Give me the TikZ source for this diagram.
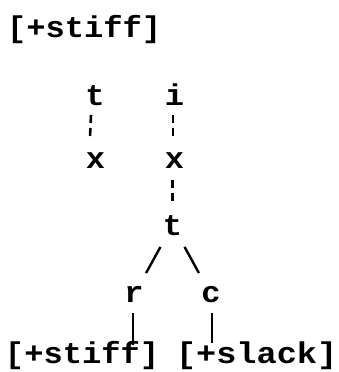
\documentclass[tikz,border=0pt]{standalone}
\usepackage{fontspec}
\newfontfamily\cour[FakeStretch=1.07]{Liberation Mono Bold}
\newfontfamily\courwide[FakeStretch=1.12]{Liberation Mono Bold}
\begin{document}
\begin{tikzpicture}[x=1pt,y=-1pt,
  lbl/.style={inner sep=0pt, outer sep=0pt, font=\cour\fontsize{30}{30}\selectfont, anchor=base},
  str/.style={lbl, anchor=base west},
  dotline/.style={line width=2.6pt, dash pattern=on 8pt off 5pt},
  solidline/.style={line width=2.4pt}]
\useasboundingbox (0,0) rectangle (339,372);
\node[str] (top) at (7,37) {[+stiff]};
\node[lbl] (t1) at (95,105) {t};
\node[lbl] (i1) at (174.5,105) {i};
\node[lbl] (x1) at (95.5,168) {x};
\node[lbl] (x2) at (174.5,168) {x};
\node[lbl] (t2) at (172.5,235) {t};
\node[lbl] (r) at (134,302) {r};
\node[lbl] (c) at (211,302) {c};
\node[str] (stiffb) at (5,363) {[+stiff]};
\node[str, font=\courwide\fontsize{30}{30}\selectfont] (slack) at (176,363) {[+slack]};
\coordinate (re) at (133,345);
\coordinate (ce) at (212,343);
\draw[dotline] ([xshift=-4pt,yshift=-10pt]t1.base) -- ([xshift=-5.5pt,yshift=31pt]x1.base);
\draw[dotline] ([xshift=-1.5pt,yshift=-10pt]i1.base) -- ([xshift=-1.5pt,yshift=31pt]x2.base);
\draw[dotline] ([xshift=-2pt,yshift=-12pt]x2.base) -- ([yshift=33pt]t2.base);
\draw[solidline, shorten <=25pt, shorten >=25pt] ([yshift=10pt]t2.base) -- ([yshift=7pt]r.base);
\draw[solidline, shorten <=25pt, shorten >=25pt] ([yshift=10pt]t2.base) -- ([yshift=7pt]c.base);
\draw[solidline] ([xshift=-1pt,yshift=-11pt]r.base) -- (re);
\draw[solidline] ([xshift=1pt,yshift=-11pt]c.base) -- (ce);
\end{tikzpicture}
\end{document}
